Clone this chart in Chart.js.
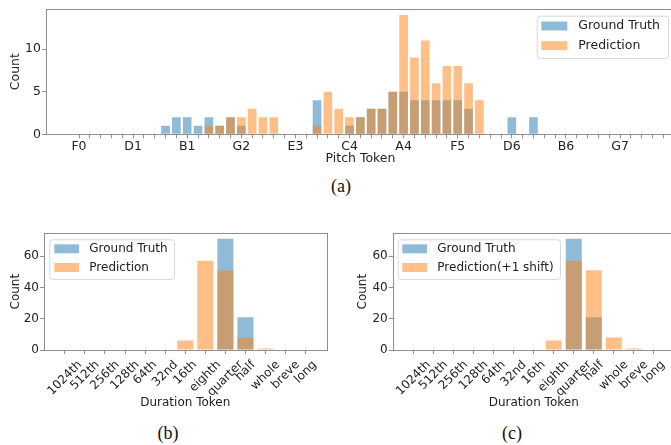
<!DOCTYPE html>
<html>
<head>
<meta charset="utf-8">
<script src="https://cdn.jsdelivr.net/npm/chart.js@4.4.0/dist/chart.umd.min.js"></script>
<style>
  body { margin: 0; width: 671px; height: 445px; overflow: hidden; background: #fff; position: relative; }
  canvas { position: absolute; }
  .cap { position: absolute; font-family: "Liberation Serif", serif; font-size: 18px; color: #111; transform: translate(-50%, -50%); }
</style>
</head>
<body>
<canvas id="pitch-chart" width="700" height="172" style="left:0;top:0"></canvas>
<div class="cap" style="left:341px;top:186px">(a)</div>
<canvas id="dur-chart" width="340" height="200" style="left:0;top:220px"></canvas>
<div class="cap" style="left:168px;top:433px">(b)</div>
<canvas id="shift-chart" width="340" height="200" style="left:346px;top:220px"></canvas>
<div class="cap" style="left:512px;top:433px">(c)</div>
<script>
// pitch tokens (natural notes), one bar slot each
const pitchTokens = [
  "F0","G0","A0","B0","C1","D1","E1","F1","G1","A1",
  "B1","C2","D2","E2","F2","G2","A2","B2","C3","D3",
  "E3","F3","G3","A3","B3","C4","D4","E4","F4","G4",
  "A4","B4","C5","D5","E5","F5","G5","A5","B5","C6",
  "D6","E6","F6","G6","A6","B6","C7","D7","E7","F7",
  "G7","A7","B7","C8","D8"
];
const pitchTruth = [
  0,0,0,0,0,0,0,0,1,2,
  2,1,2,1,2,1,0,0,0,0,
  0,0,4,0,0,1,2,3,3,5,
  5,4,4,4,4,4,3,0,0,0,
  2,0,2,0,0,0,0,0,0,0,
  0,0,0,0,0
];
const pitchPred = [
  0,0,0,0,0,0,0,0,0,0,
  0,0,1,1,2,2,3,2,2,0,
  0,0,1,5,3,2,2,3,3,5,
  14,9,11,6,8,8,6,4,0,0,
  0,0,0,0,0,0,0,0,0,0,
  0,0,0,0,0
];
const pitchLabelEvery = 5;
const pitchCountTicks = [0, 5, 10];

const durationTokens = ["1024th","512th","256th","128th","64th","32nd","16th","eighth","quarter","half","whole","breve","long"];
const durationTruth = [0,0,0,0,0,0,0,0,71,21,0,0,0];
const durationPred = [0,0,0,0,0,0,6,57,51,8,1,0,0];
const durationPredShift = [0,0,0,0,0,0,0,6,57,51,8,1,0];
const durationCountTicks = [0, 20, 40, 60];

const BLUE = "rgba(31,119,180,0.5)";
const ORANGE = "rgba(255,127,14,0.5)";
const SPINE = "#8f8f8f";
const INK = "#222";
const FAMILY = "'DejaVu Sans'";

function points(values) {
  return values.map((v, i) => ({ x: i, y: v }));
}

function barSets(truth, pred, predLabel) {
  const common = { grouped: false, barPercentage: 0.8, categoryPercentage: 1, borderWidth: 0 };
  return [
    { label: "Ground Truth", data: points(truth), backgroundColor: BLUE, order: 2, ...common },
    { label: predLabel, data: points(pred), backgroundColor: ORANGE, order: 1, ...common },
  ];
}

// box around the plot area, drawn over the bars like matplotlib spines
const framePlugin = {
  id: "frame",
  afterDatasetsDraw(chart) {
    const { ctx, chartArea: a } = chart;
    ctx.save();
    ctx.strokeStyle = SPINE;
    ctx.lineWidth = 1;
    ctx.strokeRect(Math.round(a.left) + 0.5, Math.round(a.top) + 0.5, Math.round(a.right - a.left), Math.round(a.bottom - a.top));
    ctx.restore();
  },
};

// legend box placed inside the axes
const boxLegend = {
  id: "boxLegend",
  afterDraw(chart, args, o) {
    if (!o.box) return;
    const { ctx } = chart;
    const [bx, by, bw, bh] = o.box;
    ctx.save();
    ctx.fillStyle = "rgba(255,255,255,0.8)";
    ctx.strokeStyle = "#d8d8d8";
    ctx.lineWidth = 1;
    ctx.beginPath();
    ctx.roundRect(bx + 0.5, by + 0.5, bw, bh, 3);
    ctx.fill();
    ctx.stroke();
    ctx.font = o.size + "px " + FAMILY;
    ctx.textBaseline = "middle";
    ctx.textAlign = "left";
    chart.data.datasets.forEach((ds, i) => {
      const cy = o.rows[i];
      ctx.fillStyle = ds.backgroundColor;
      ctx.fillRect(o.patchX, cy - o.patchH / 2, o.patchW, o.patchH);
      ctx.fillStyle = INK;
      ctx.fillText(ds.label, o.textX, cy);
    });
    ctx.restore();
  },
};

// 45 degree tick labels centred under each tick (matplotlib style)
const slantLabels = {
  id: "slantLabels",
  afterDraw(chart, args, o) {
    if (!o.labels) return;
    const { ctx } = chart;
    const xs = chart.scales.x;
    const top = chart.chartArea.bottom + o.gap;
    const h = o.size * 1.16;
    ctx.save();
    ctx.font = o.size + "px " + FAMILY;
    ctx.fillStyle = INK;
    ctx.textAlign = "center";
    ctx.textBaseline = "middle";
    o.labels.forEach((text, i) => {
      const w = ctx.measureText(text).width;
      const side = (w + h) / Math.SQRT2;
      ctx.save();
      ctx.translate(xs.getPixelForValue(i), top + side / 2);
      ctx.rotate(-Math.PI / 4);
      ctx.fillText(text, 0, 0);
      ctx.restore();
    });
    ctx.restore();
  },
};

function countAxis(ticks, max, width, size, titlePad) {
  const font = { family: FAMILY, size: size, lineHeight: 1 };
  return {
    min: 0,
    max: max,
    afterBuildTicks: (s) => { s.ticks = ticks.map((v) => ({ value: v })); },
    afterFit: (s) => { s.width = width; },
    ticks: { padding: 1, color: INK, font: font },
    grid: { drawOnChartArea: false, tickLength: 4, tickColor: SPINE },
    border: { display: false },
    title: { display: true, text: "Count", color: INK, font: font, padding: { top: titlePad, bottom: 0 } },
  };
}

// (a) pitch histogram
const pitchFont = { family: FAMILY, size: 12.5, lineHeight: 1 };
new Chart(document.getElementById("pitch-chart"), {
  type: "bar",
  data: { datasets: barSets(pitchTruth, pitchPred, "Prediction") },
  options: {
    responsive: false,
    animation: false,
    layout: { padding: { top: 9, right: 25, left: 0, bottom: 0 } },
    scales: {
      x: {
        type: "linear",
        min: -3.05,
        max: 55.08,
        offset: false,
        afterBuildTicks: (s) => { s.ticks = pitchTokens.map((_, i) => ({ value: i })); },
        afterFit: (s) => { s.height = 172 - 134.3; },
        ticks: {
          autoSkip: false,
          maxRotation: 0,
          minRotation: 0,
          padding: 2,
          color: INK,
          font: pitchFont,
          callback: (v) => (v % pitchLabelEvery === 0 ? pitchTokens[v] : ""),
        },
        grid: { drawOnChartArea: false, offset: false, tickLength: 4, tickColor: SPINE },
        border: { display: false },
        title: { display: true, text: "Pitch Token", color: INK, font: pitchFont, padding: { top: 0, bottom: 7 } },
      },
      y: countAxis(pitchCountTicks, 14.7, 46, 12.5, 9.8),
    },
    plugins: {
      legend: { display: false },
      tooltip: { enabled: false },
      boxLegend: { box: [536.7, 15.7, 131.3, 42.3], patchX: 541.3, patchW: 26, patchH: 9, rows: [26, 45.7], textX: 578.3, size: 12.5 },
    },
  },
  plugins: [framePlugin, boxLegend],
});

// (b) and (c) duration histograms
function durationChart(id, pred, predLabel, yWidth, padRight, countPad, legend) {
  const font = { family: FAMILY, size: 12, lineHeight: 1 };
  new Chart(document.getElementById(id), {
    type: "bar",
    data: { datasets: barSets(durationTruth, pred, predLabel) },
    options: {
      responsive: false,
      animation: false,
      layout: { padding: { top: 13.3, right: padRight, left: 0, bottom: 0 } },
      scales: {
        x: {
          type: "linear",
          min: -1.04,
          max: durationTokens.length - 1 + 1.04,
          offset: false,
          afterBuildTicks: (s) => { s.ticks = durationTokens.map((_, i) => ({ value: i })); },
          afterFit: (s) => { s.height = 70; },
          ticks: { autoSkip: false, maxRotation: 0, callback: () => "" },
          grid: { drawOnChartArea: false, offset: false, tickLength: 4, tickColor: SPINE },
          border: { display: false },
          title: { display: true, text: "Duration Token", color: INK, font: font, padding: { top: 0, bottom: 11 } },
        },
        y: countAxis(durationCountTicks, 74.55, yWidth, 12, countPad),
      },
      plugins: {
        legend: { display: false },
        tooltip: { enabled: false },
        boxLegend: legend,
        slantLabels: { labels: durationTokens, gap: 8, size: 12 },
      },
    },
    plugins: [framePlugin, boxLegend, slantLabels],
  });
}

durationChart("dur-chart", durationPred, "Prediction", 44, 13.5, 10,
  { box: [49.3, 19.3, 124.7, 39.7], patchX: 54.3, patchW: 24.7, patchH: 9, rows: [28.8, 47.5], textX: 89.3, size: 12 });
durationChart("shift-chart", durationPredShift, "Prediction(+1 shift)", 46.7, 11.3, 11.3,
  { box: [51.7, 19.3, 162.3, 39.7], patchX: 56.3, patchW: 24.7, patchH: 9, rows: [28.8, 47.5], textX: 91.3, size: 12 });
</script>
</body>
</html>
